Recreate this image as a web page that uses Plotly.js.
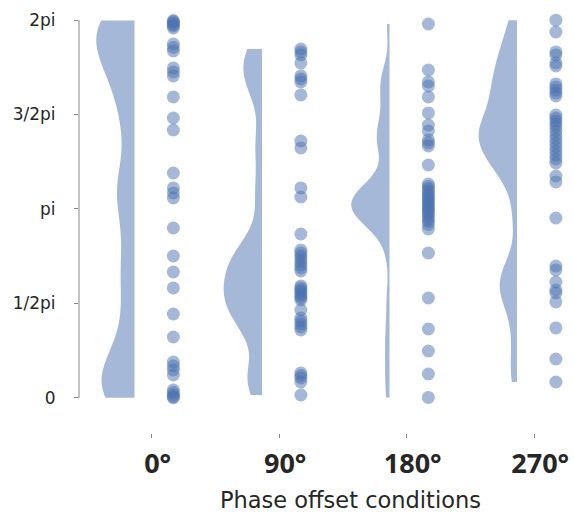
<!DOCTYPE html>
<html><head><meta charset="utf-8">
<script src="https://cdn.plot.ly/plotly-3.0.1.min.js"></script>
<style>html,body{margin:0;padding:0;background:#fff;overflow:hidden}</style>
</head><body><div id="chart" style="width:574px;height:521px"></div>
<script>
const conditions = ['0°', '90°', '180°', '270°'];
const phase0 = [6.275, 6.258, 6.234, 6.209, 6.184, 6.150, 5.884, 5.826, 5.768, 5.486, 5.419, 5.353,
  5.004, 4.654, 4.455, 3.740, 3.491, 3.408, 3.324, 2.826, 2.360, 2.094, 1.829, 1.396, 1.014,
  0.598, 0.532, 0.465, 0.382, 0.133, 0.091, 0.050, 0.017, 0.005];
const phase90 = [5.801, 5.752, 5.702, 5.569, 5.353, 5.303, 5.253, 5.037, 4.272, 4.156, 3.491, 3.341,
  2.726, 2.460, 2.410, 2.360, 2.311, 2.261, 2.211, 2.161, 2.111, 1.862, 1.829, 1.795, 1.762, 1.729,
  1.696, 1.662, 1.629, 1.463, 1.330, 1.280, 1.230, 1.180, 1.130, 0.416, 0.374, 0.332, 0.266, 0.050];
const phase180 = [6.217, 5.452, 5.253, 5.186, 5.004, 4.738, 4.538, 4.438, 4.289, 4.239, 4.189,
  3.873, 3.557, 3.516, 3.474, 3.433, 3.391, 3.358, 3.325, 3.291, 3.258, 3.225, 3.192, 3.158, 3.125,
  3.092, 3.059, 3.017, 2.976, 2.934, 2.884, 2.809, 2.410, 1.662, 1.147, 0.781, 0.399, 0.010];
const phase270 = [6.280, 6.084, 5.752, 5.702, 5.569, 5.519, 5.220, 5.170, 5.120, 5.070, 5.020, 4.704,
  4.654, 4.605, 4.555, 4.505, 4.438, 4.372, 4.305, 4.239, 4.172, 4.106, 4.039, 3.973, 3.906, 3.690,
  3.591, 2.992, 2.194, 2.128, 1.928, 1.795, 1.745, 1.596, 1.164, 0.648, 0.266];
const yTickVals = [0, Math.PI / 2, Math.PI, 3 * Math.PI / 2, 2 * Math.PI];
const yTickText = ['0', '1/2pi', 'pi', '3/2pi', '2pi'];
const xAxisTitle = 'Phase offset conditions';

const series = [phase0, phase90, phase180, phase270];
function sd(a) {
  const m = a.reduce((s, v) => s + v, 0) / a.length;
  return Math.sqrt(a.reduce((s, v) => s + (v - m) * (v - m), 0) / (a.length - 1));
}
const traces = [];
series.forEach((vals, i) => {
  traces.push({
    type: 'violin', x0: i - 0.135, y: vals, name: conditions[i],
    side: 'negative', spanmode: 'hard', bandwidth: 0.2 * sd(vals),
    width: 0.6, scalemode: 'width', points: false,
    fillcolor: 'rgba(76,114,176,0.5)',
    line: {width: 0, color: 'rgba(76,114,176,0.5)'},
    box: {visible: false}, meanline: {visible: false},
    hoverinfo: 'skip', showlegend: false
  });
});
series.forEach((vals, i) => {
  traces.push({
    type: 'scatter', mode: 'markers', x: vals.map(() => i + 0.17), y: vals,
    marker: {size: 13, color: '#4c72b0', opacity: 0.5, line: {width: 0}},
    cliponaxis: false, showlegend: false, name: conditions[i]
  });
});

const layout = {
  width: 574, height: 521,
  margin: {l: 79, r: 0, t: 20, b: 88},
  paper_bgcolor: '#ffffff', plot_bgcolor: '#ffffff',
  showlegend: false, violinmode: 'overlay',
  xaxis: {
    range: [-0.570, 3.312], tickvals: [0, 1, 2, 3], ticktext: conditions,
    ticks: 'outside', ticklen: 4, tickcolor: '#888888', showgrid: false,
    zeroline: false, showline: false, ticklabelstandoff: 3, ticklabelshift: 6,
    tickfont: {family: 'Open Sans', size: 27, weight: 'bold', color: '#262626'}
  },
  yaxis: {
    range: [-0.582, 2 * Math.PI], tickvals: yTickVals, ticktext: yTickText,
    ticks: 'outside', ticklen: 4, tickcolor: '#888888', showgrid: false,
    zeroline: false, showline: false, ticklabelstandoff: 15,
    tickfont: {family: 'DejaVu Sans', size: 17, color: '#262626'}
  },
  shapes: [{type: 'line', xref: 'paper', x0: 0, x1: 0, yref: 'y', y0: 0, y1: 2 * Math.PI,
            line: {color: '#888888', width: 1}}],
  annotations: [{text: xAxisTitle, xref: 'paper', yref: 'paper', x: 0.549, y: -0.162,
                 xanchor: 'center', yanchor: 'middle', showarrow: false,
                 font: {family: 'DejaVu Sans', size: 22.5, color: '#262626'}}]
};
Plotly.newPlot('chart', traces, layout, {displayModeBar: false, staticPlot: true});
</script></body></html>
